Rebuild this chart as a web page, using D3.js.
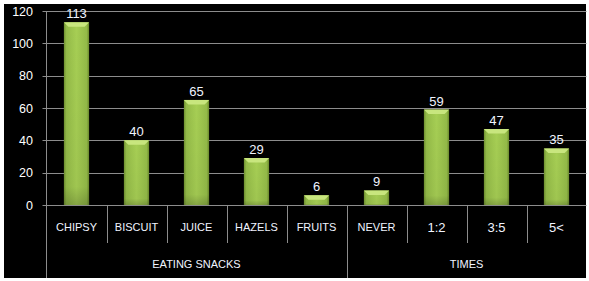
<!DOCTYPE html>
<html>
<head>
<meta charset="utf-8">
<script src="https://cdn.jsdelivr.net/npm/d3@7"></script>
<style>
  body { margin: 0; background: #fff; }
  svg { display: block; }
  text { font-family: "Liberation Sans", Arial, sans-serif; }
</style>
</head>
<body>
<svg width="589" height="281"></svg>
<script>
var categories = ["CHIPSY", "BISCUIT", "JUICE", "HAZELS", "FRUITS", "NEVER", "1:2", "3:5", "5<"];
var values = [113, 40, 65, 29, 6, 9, 59, 47, 35];
var groupNames = ["EATING SNACKS", "TIMES"];
var groupSizes = [5, 4];
var yTicks = [0, 20, 40, 60, 80, 100, 120];

var svg = d3.select("svg"),
    plotLeft = 46.5, plotRight = 586.5, plotTop = 11, plotBottom = 205;

svg.append("rect").attr("x", 4).attr("y", 4).attr("width", 582).attr("height", 274).attr("fill", "#000");

var x = d3.scaleBand().domain(categories).range([plotLeft, plotRight]).padding(0);
var y = d3.scaleLinear().domain([0, 120]).range([plotBottom, plotTop]);
var barW = x.bandwidth() * 0.42;

var defs = svg.append("defs");
var grad = defs.append("linearGradient").attr("id", "body").attr("x1", 0).attr("x2", 1).attr("y1", 0).attr("y2", 0);
grad.append("stop").attr("offset", "0%").attr("stop-color", "#6f9030");
grad.append("stop").attr("offset", "10%").attr("stop-color", "#94bb48");
grad.append("stop").attr("offset", "50%").attr("stop-color", "#a6ce54");
grad.append("stop").attr("offset", "90%").attr("stop-color", "#94bb48");
grad.append("stop").attr("offset", "100%").attr("stop-color", "#6a8a2c");
var vgrad = defs.append("linearGradient").attr("id", "shade").attr("x1", 0).attr("x2", 0).attr("y1", 0).attr("y2", 1);
vgrad.append("stop").attr("offset", "0%").attr("stop-color", "#000").attr("stop-opacity", 0);
vgrad.append("stop").attr("offset", "90%").attr("stop-color", "#000").attr("stop-opacity", 0.04);
vgrad.append("stop").attr("offset", "100%").attr("stop-color", "#000").attr("stop-opacity", 0.2);

// gridlines
svg.append("g").selectAll("line").data(yTicks).enter().append("line")
  .attr("x1", plotLeft - 4).attr("x2", plotRight)
  .attr("y1", function(d) { return Math.round(y(d)) + 0.5; })
  .attr("y2", function(d) { return Math.round(y(d)) + 0.5; })
  .attr("stroke", "#8c8c8c");

// y labels
svg.append("g").selectAll("text").data(yTicks).enter().append("text")
  .attr("x", 33).attr("y", function(d) { return y(d); })
  .attr("dy", "0.36em").attr("text-anchor", "end")
  .attr("fill", "#fff").attr("font-size", 12.5)
  .text(function(d) { return d; });

// bars
var bars = svg.append("g").selectAll("g").data(values).enter().append("g")
  .attr("transform", function(d, i) { return "translate(" + (x(categories[i]) + (x.bandwidth() - barW) / 2) + ",0)"; });
bars.append("rect")
  .attr("y", function(d) { return y(d); })
  .attr("width", barW)
  .attr("height", function(d) { return plotBottom - y(d); })
  .attr("fill", "url(#body)");
bars.append("rect")
  .attr("y", function(d) { return y(d); })
  .attr("width", barW)
  .attr("height", function(d) { return plotBottom - y(d); })
  .attr("fill", "url(#shade)");
bars.append("path")
  .attr("d", function(d) {
    var t = y(d), b = Math.min(4.5, (plotBottom - t) / 2);
    return "M0," + t + "L" + barW + "," + t + "L" + (barW - b) + "," + (t + b) + "L" + b + "," + (t + b) + "Z";
  })
  .attr("fill", "#c8e67e");

// value labels
svg.append("g").selectAll("text").data(values).enter().append("text")
  .attr("x", function(d, i) { return x(categories[i]) + x.bandwidth() / 2; })
  .attr("y", function(d) { return y(d) - 4; })
  .attr("text-anchor", "middle").attr("fill", "#f0f4ff").attr("font-size", 13)
  .text(function(d) { return d; });

// y axis line
svg.append("line").attr("x1", plotLeft).attr("x2", plotLeft).attr("y1", plotTop).attr("y2", 278).attr("stroke", "#8c8c8c");

// category dividers
var starts = [0];
groupSizes.forEach(function(s, i) { starts.push(starts[i] + s); });
svg.append("g").selectAll("line").data(categories.slice(1)).enter().append("line")
  .attr("x1", function(d) { return Math.round(x(d)) + 0.5; })
  .attr("x2", function(d) { return Math.round(x(d)) + 0.5; })
  .attr("y1", plotBottom)
  .attr("y2", function(d, i) { return starts.indexOf(i + 1) > 0 ? 278 : 243; })
  .attr("stroke", "#8c8c8c");

svg.append("g").selectAll("text").data(categories).enter().append("text")
  .attr("x", function(d) { return x(d) + x.bandwidth() / 2; })
  .attr("y", function(d) { return /^\d/.test(d) ? 232 : 231; })
  .attr("text-anchor", "middle").attr("fill", "#f0f4ff")
  .attr("font-size", function(d) { return /^\d/.test(d) ? 13 : 11; })
  .text(function(d) { return d; });

svg.append("g").selectAll("text").data(groupNames).enter().append("text")
  .attr("x", function(d, i) {
    var a = x(categories[starts[i]]), b = x(categories[starts[i + 1] - 1]) + x.bandwidth();
    return (a + b) / 2;
  })
  .attr("y", 268)
  .attr("text-anchor", "middle").attr("fill", "#f0f4ff").attr("font-size", 11)
  .text(function(d) { return d; });
</script>
</body>
</html>
